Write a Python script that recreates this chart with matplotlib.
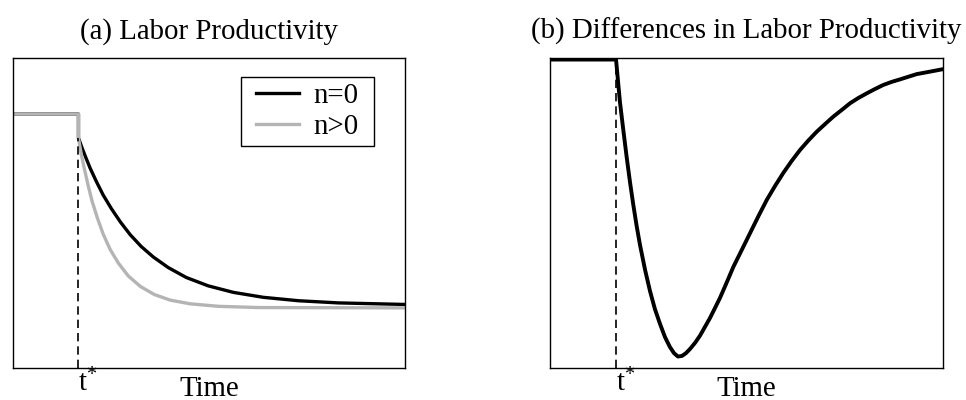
import matplotlib
matplotlib.use("Agg")
import matplotlib.pyplot as plt

plt.rcParams['font.family'] = ['Liberation Serif', 'DejaVu Serif']
plt.rcParams['mathtext.fontset'] = 'custom'
plt.rcParams['mathtext.rm'] = 'Liberation Serif'
plt.rcParams['mathtext.it'] = 'Liberation Serif'

# ---- data ----
t_star = 16.7
tstar_label = r'$\mathrm{t}^{*}$'
xlabel = 'Time'
titles = ['(a) Labor Productivity', '(b) Differences in Labor Productivity']
series_labels = ['n=0', 'n>0']

labor_t_n0 = [0, 16.7, 16.7, 17.7, 18.7, 19.7, 21.25, 23.0, 25.1, 27.4, 29.9,
              32.7, 35.8, 39.6, 44.2, 49.8, 56.2, 63.85, 72.8, 83.0, 100]
labor_n0 = [0.819, 0.819, 0.742, 0.707, 0.675, 0.644, 0.602, 0.558, 0.514,
            0.471, 0.430, 0.392, 0.358, 0.324, 0.292, 0.265, 0.244, 0.228,
            0.217, 0.210, 0.205]

labor_t_pos = [0, 16.7, 16.7, 17.4, 18.2, 19.2, 20.2, 21.5, 23.0, 24.8, 26.9,
               29.4, 32.5, 36.05, 40.1, 45.2, 52.4, 62.6, 100]
labor_pos = [0.819, 0.819, 0.742, 0.690, 0.643, 0.587, 0.537, 0.485, 0.432,
             0.382, 0.338, 0.297, 0.263, 0.237, 0.219, 0.207, 0.199, 0.195,
             0.194]

diff_t = [0, 16.8, 17.8, 18.65, 19.5, 20.35, 21.2, 22.05, 22.9, 24.2, 25.45,
          26.7, 28.0, 29.25, 30.5, 31.55, 32.55, 33.6, 34.6, 35.6, 36.9, 38.2,
          39.4, 40.7, 42.0, 43.25, 44.8, 46.65, 48.8, 50.9, 53.0, 55.15, 57.25,
          59.35, 61.5, 63.6, 65.75, 67.85, 70.0, 72.1, 74.2, 76.35, 78.45,
          80.6, 82.7, 84.8, 86.95, 89.05, 93.3, 96.7, 100]
diff_val = [0.995, 0.995, 0.858, 0.768, 0.681, 0.600, 0.526, 0.458, 0.397,
            0.316, 0.248, 0.190, 0.142, 0.100, 0.068, 0.048, 0.037, 0.039,
            0.048, 0.061, 0.081, 0.105, 0.132, 0.161, 0.194, 0.226, 0.271,
            0.326, 0.381, 0.435, 0.489, 0.542, 0.587, 0.629, 0.668, 0.703,
            0.734, 0.762, 0.787, 0.811, 0.832, 0.854, 0.871, 0.886, 0.900,
            0.913, 0.923, 0.931, 0.948, 0.956, 0.964]

# ---- figure ----
W, H = 966, 400
fig = plt.figure(figsize=(W / 100, H / 100), dpi=100)
ax1 = fig.add_axes([13 / W, 32 / H, 392 / W, 310 / H])
ax2 = fig.add_axes([550 / W, 32 / H, 393 / W, 310 / H])

FS = 20.8
gray = '#b4b4b4'
dash = (0, (5, 3))

ax1.plot(labor_t_n0, labor_n0, color='black', lw=2.4, label=series_labels[0],
         solid_joinstyle='round')
ax1.plot(labor_t_pos, labor_pos, color=gray, lw=2.4, label=series_labels[1],
         solid_joinstyle='round')
ax1.plot([t_star, t_star], [0, labor_n0[2]], color='black', lw=1.2,
         linestyle=dash)

ax2.plot(diff_t, diff_val, color='black', lw=2.8, solid_joinstyle='round')
ax2.plot([diff_t[1], diff_t[1]], [0, 1], color='black', lw=1.2,
         linestyle=dash)

leg = ax1.legend(loc='upper right', bbox_to_anchor=(0.8923, 0.9323),
                 borderaxespad=0, fancybox=False, framealpha=1,
                 edgecolor='black', fontsize=FS, handlelength=1.47,
                 handletextpad=0.51, labelspacing=0.145, borderpad=0.14)
frame = leg.get_frame()
frame.set_linewidth(1.0)
frame.set_boxstyle('square', pad=0.373)
frame.set_mutation_aspect(0.23)

for ax, title, ts in [(ax1, titles[0], t_star), (ax2, titles[1], diff_t[1])]:
    ax.set_xlim(0, 100)
    ax.set_ylim(0, 1)
    ax.set_yticks([])
    ax.set_xticks([ts])
    ax.set_xticklabels([tstar_label], fontsize=FS, ha='left')
    ax.tick_params(axis='x', length=0, pad=0.5)
    ax.set_xlabel(xlabel, fontsize=FS, va='baseline')
    ax.xaxis.set_label_coords(0.5, -0.089)
    ax.set_title(title, fontsize=FS, pad=14)
    for s in ax.spines.values():
        s.set_linewidth(1.0)

fig.savefig('out.png', dpi=100)
